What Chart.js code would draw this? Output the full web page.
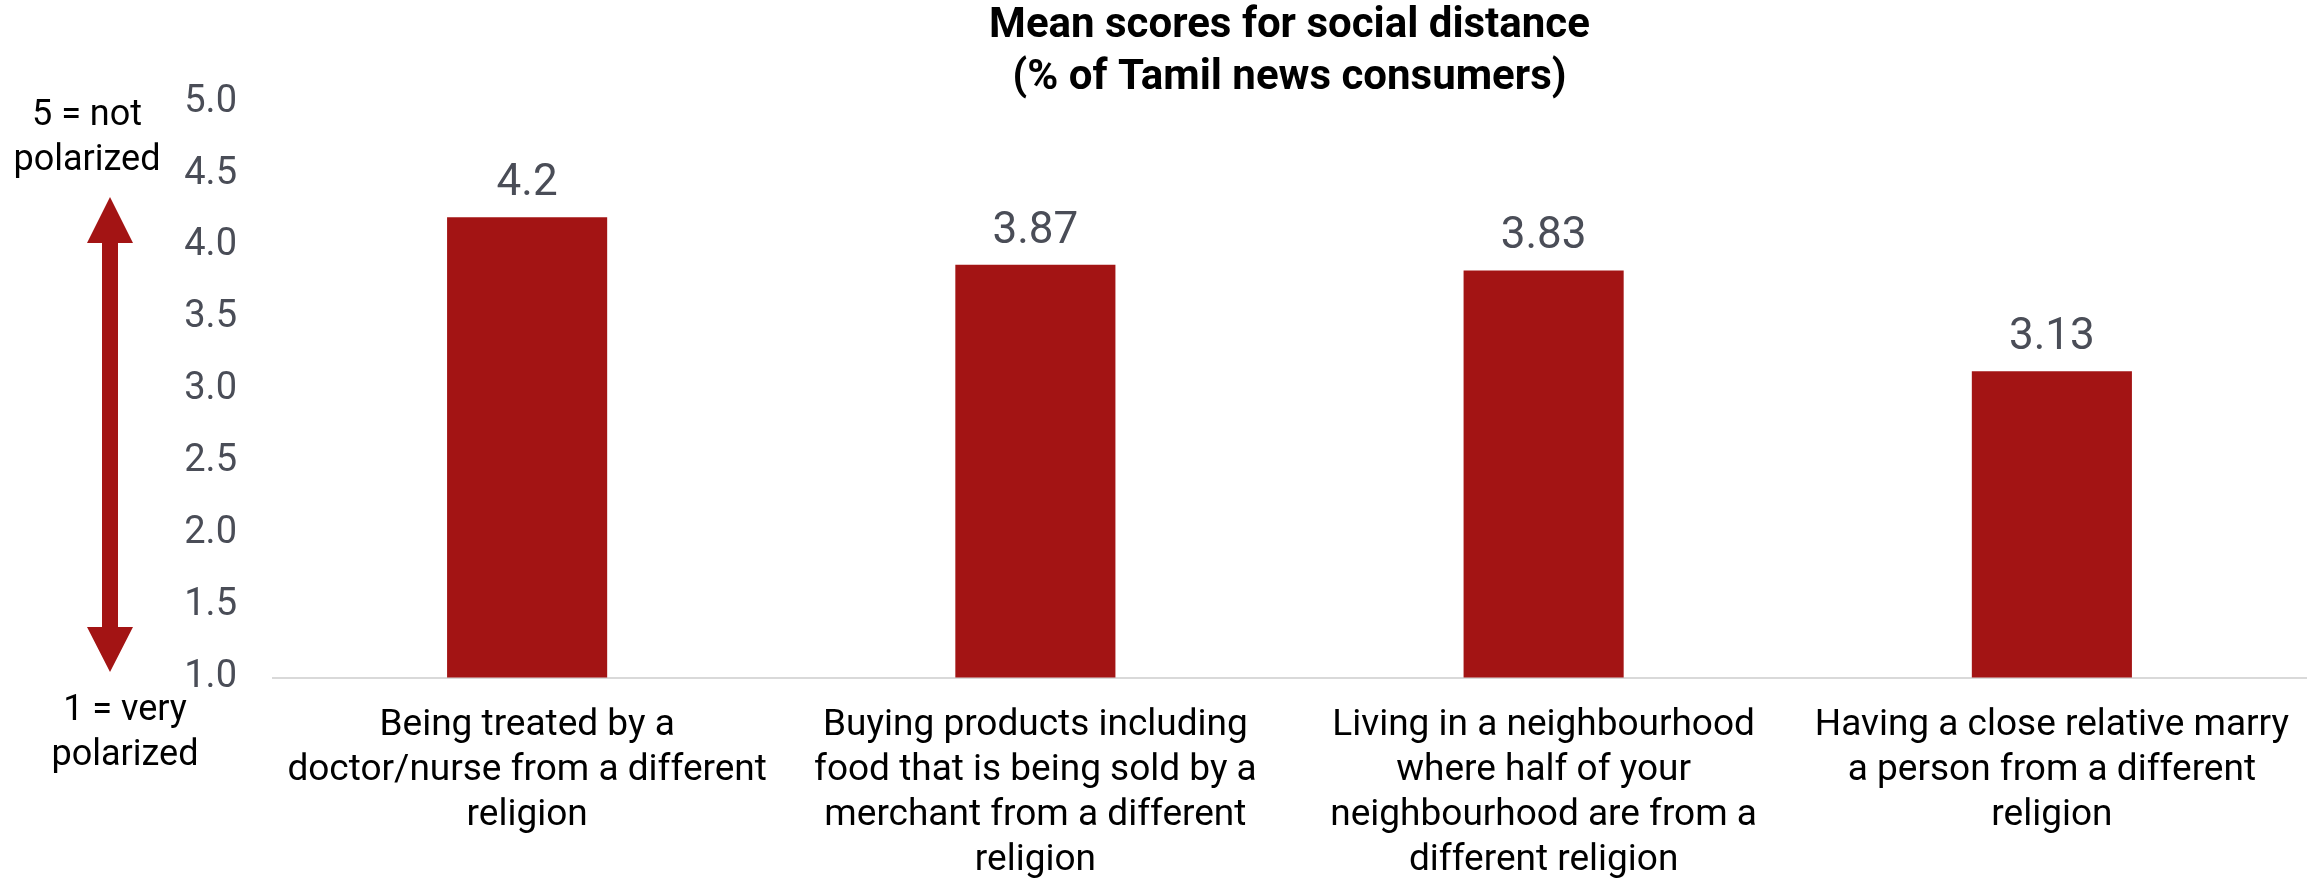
<!DOCTYPE html>
<html>
<head>
<meta charset="utf-8">
<title>Mean scores for social distance</title>
<script src="https://cdn.jsdelivr.net/npm/chart.js@4"></script>
<style>
  html, body { margin: 0; padding: 0; background: #fff; }
  #wrap { width: 2318px; height: 881px; position: relative; }
</style>
</head>
<body>
<div id="wrap"><canvas id="distanceChart"></canvas></div>
<script>
// categories (wrapped as they appear under the axis)
const categories = [
    ['Being treated by a', 'doctor/nurse from a different', 'religion'],
    ['Buying products including', 'food that is being sold by a', 'merchant from a different', 'religion'],
    ['Living in a neighbourhood', 'where half of your', 'neighbourhood are from a', 'different religion'],
    ['Having a close relative marry', 'a person from a different', 'religion']
];
const meanScores = [4.2, 3.87, 3.83, 3.13];
const yTicks = [1.0, 1.5, 2.0, 2.5, 3.0, 3.5, 4.0, 4.5, 5.0];
const titleLines = ['Mean scores for social distance', '(% of Tamil news consumers)'];

const RED = '#A31414';
const GREY_TEXT = '#4A4D57';

// value on top of each bar
const valueLabels = {
    id: 'valueLabels',
    afterDatasetsDraw(chart) {
        const { ctx } = chart;
        const meta = chart.getDatasetMeta(0);
        ctx.save();
        ctx.font = '44px Roboto';
        ctx.fillStyle = GREY_TEXT;
        ctx.textAlign = 'center';
        ctx.textBaseline = 'alphabetic';
        meta.data.forEach((bar, i) => {
            ctx.fillText(String(meanScores[i]), bar.x, bar.y - 22);
        });
        ctx.restore();
    }
};

// double-headed arrow with the scale explanation on the left
const polarityNote = {
    id: 'polarityNote',
    afterDraw(chart) {
        const { ctx } = chart;
        const cx = 110, shaft = 8, head = 23;
        const top = 197, topBase = 243, bottomBase = 627, bottom = 672;
        ctx.save();
        ctx.fillStyle = RED;
        ctx.beginPath();
        ctx.moveTo(cx, top);
        ctx.lineTo(cx + head, topBase);
        ctx.lineTo(cx + shaft, topBase);
        ctx.lineTo(cx + shaft, bottomBase);
        ctx.lineTo(cx + head, bottomBase);
        ctx.lineTo(cx, bottom);
        ctx.lineTo(cx - head, bottomBase);
        ctx.lineTo(cx - shaft, bottomBase);
        ctx.lineTo(cx - shaft, topBase);
        ctx.lineTo(cx - head, topBase);
        ctx.closePath();
        ctx.fill();

        ctx.font = '36px Roboto';
        ctx.fillStyle = '#000';
        ctx.textAlign = 'center';
        ctx.textBaseline = 'alphabetic';
        ctx.fillText('5 = not', 87, 125);
        ctx.fillText('polarized', 87, 170);
        ctx.fillText('1 = very', 125, 720);
        ctx.fillText('polarized', 125, 765);
        ctx.restore();
    }
};

const ctx = document.getElementById('distanceChart');
new Chart(ctx, {
    type: 'bar',
    data: {
        labels: categories,
        datasets: [{
            label: 'Mean score',
            data: meanScores,
            backgroundColor: RED,
            borderWidth: 0,
            barPercentage: 0.315,
            categoryPercentage: 1
        }]
    },
    options: {
        responsive: true,
        maintainAspectRatio: false,
        animation: false,
        layout: { padding: { left: 0, right: 12, top: 0, bottom: 0 } },
        plugins: {
            legend: { display: false },
            tooltip: { enabled: false },
            title: {
                display: true,
                fullSize: false,
                text: titleLines,
                color: '#000',
                font: { family: 'Roboto', size: 42, weight: 'bold', lineHeight: 1.24 },
                padding: { top: 0, bottom: -2 }
            }
        },
        scales: {
            x: {
                grid: { display: false, drawTicks: false },
                border: { display: true, color: '#D9D9D9', width: 2 },
                ticks: {
                    color: '#000',
                    font: { family: 'Roboto', size: 37, lineHeight: 1.216 },
                    padding: 26,
                    maxRotation: 0,
                    autoSkip: false
                },
                afterFit(scale) { scale.height = 203.5; }
            },
            y: {
                min: 1,
                max: 5,
                grid: { display: false, drawTicks: false },
                border: { display: false },
                afterBuildTicks(scale) {
                    scale.ticks = yTicks.map(v => ({ value: v }));
                },
                ticks: {
                    color: GREY_TEXT,
                    font: { family: 'Roboto', size: 38 },
                    padding: 36,
                    callback: (v) => Number(v).toFixed(1)
                },
                afterFit(scale) { scale.width = 273; }
            }
        }
    },
    plugins: [valueLabels, polarityNote]
});
</script>
</body>
</html>
